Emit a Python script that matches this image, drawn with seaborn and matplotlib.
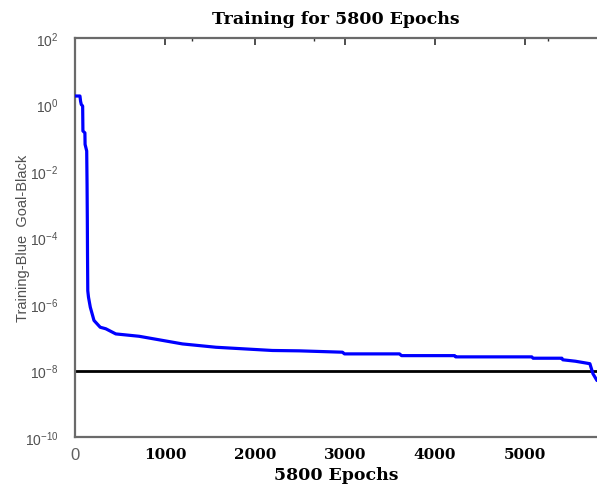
import matplotlib
matplotlib.use("Agg")
import matplotlib.pyplot as plt
import seaborn as sns
import pandas as pd
from matplotlib.ticker import FixedLocator, NullFormatter

# ---- data ----
epochs = [0, 55, 62, 70, 85, 88, 110, 112, 130, 134, 137, 139, 142, 146, 150, 170,
          211, 280, 342, 453, 712, 1194, 1566, 2193, 2493, 2972, 2994, 3606, 3628,
          4218, 4230, 5075, 5090, 5410, 5420, 5560, 5665, 5721, 5755, 5800]
performance = [1.8, 1.8, 1.25, 1.0, 0.9, 0.16, 0.14, 0.063, 0.04, 4.0e-3, 3.2e-4,
               3.2e-5, 2.5e-6, 2.0e-6, 1.6e-6, 8.0e-7, 3.2e-7, 2.0e-7, 1.8e-7,
               1.26e-7, 1.07e-7, 6.3e-8, 5.0e-8, 4.0e-8, 3.9e-8, 3.55e-8, 3.16e-8,
               3.16e-8, 2.8e-8, 2.8e-8, 2.57e-8, 2.57e-8, 2.34e-8, 2.34e-8, 2.1e-8,
               1.9e-8, 1.7e-8, 1.6e-8, 8.0e-9, 5.0e-9]
goal = 1e-8
x_ticks = [0, 1000, 2000, 3000, 4000, 5000]
x_tick_labels = ["0", "1000", "2000", "3000", "4000", "5000"]
y_major = [1e2, 1e0, 1e-2, 1e-4, 1e-6, 1e-8, 1e-10]
y_major_labels = ["2", "0", "-2", "-4", "-6", "-8", "-10"]
y_minor = [1e1, 1e-1, 1e-3, 1e-5, 1e-7, 1e-9]
x_minor = [1300, 2650, 5250]
title = "Training for 5800 Epochs"
x_label = "5800 Epochs"
y_label = "Training-Blue  Goal-Black"

df = pd.DataFrame({"epoch": epochs, "perf": performance})

sns.set_theme(style="white")
plt.rcParams["font.family"] = ["DejaVu Sans"]

fig = plt.figure(figsize=(5.97, 4.89), dpi=100)
ax = fig.add_axes([75 / 597, 1 - 438 / 489, 1 - 75 / 597, (438 - 39) / 489])

sns.lineplot(data=df, x="epoch", y="perf", ax=ax, color="#0000ff",
             linewidth=2.3, estimator=None, sort=False, zorder=3)
ax.axhline(goal, color="black", linewidth=2.0, zorder=2)

ax.set_yscale("log")
ax.set_xlim(0, 5800)
ax.set_ylim(1e-10, 1e2)

ax.yaxis.set_major_locator(FixedLocator(y_major))
ax.yaxis.set_minor_locator(FixedLocator(y_minor))
ax.yaxis.set_minor_formatter(NullFormatter())
ax.set_yticklabels([r"$\mathregular{10^{%s}}$" % s for s in y_major_labels],
                   fontsize=10, color="#505050", family="Liberation Sans")

ax.xaxis.set_major_locator(FixedLocator(x_ticks))
ax.xaxis.set_minor_locator(FixedLocator(x_minor))
ax.set_xticklabels(x_tick_labels)
for i, lab in enumerate(ax.get_xticklabels()):
    if i == 0:
        lab.set_fontfamily("Liberation Sans")
        lab.set_fontweight("normal")
        lab.set_color("#606060")
        lab.set_fontsize(12)
    else:
        lab.set_fontfamily("DejaVu Serif")
        lab.set_fontweight("bold")
        lab.set_color("black")
        lab.set_fontsize(11)

ax.tick_params(axis="both", which="both", direction="in", top=True, right=False,
               color="#303030")
ax.tick_params(axis="both", which="major", length=5, width=1.2)
ax.tick_params(axis="y", which="major", pad=12)
ax.tick_params(axis="x", which="major", pad=7)
ax.tick_params(axis="both", which="minor", length=2.5, width=1.0)

for side in ["left", "bottom", "top"]:
    ax.spines[side].set_visible(True)
    ax.spines[side].set_color("#6a6a6a")
    ax.spines[side].set_linewidth(1.6)
ax.spines["right"].set_visible(False)

ax.set_title(title, fontsize=12.5, fontweight="bold", family="DejaVu Serif",
             color="black", pad=11)
ax.set_xlabel(x_label, fontsize=12.5, fontweight="bold", family="DejaVu Serif",
              color="black", labelpad=3)
ax.set_ylabel(y_label, fontsize=10.5, family="Liberation Sans", color="#505050",
              labelpad=-4)

fig.savefig("out.png", dpi=100)
